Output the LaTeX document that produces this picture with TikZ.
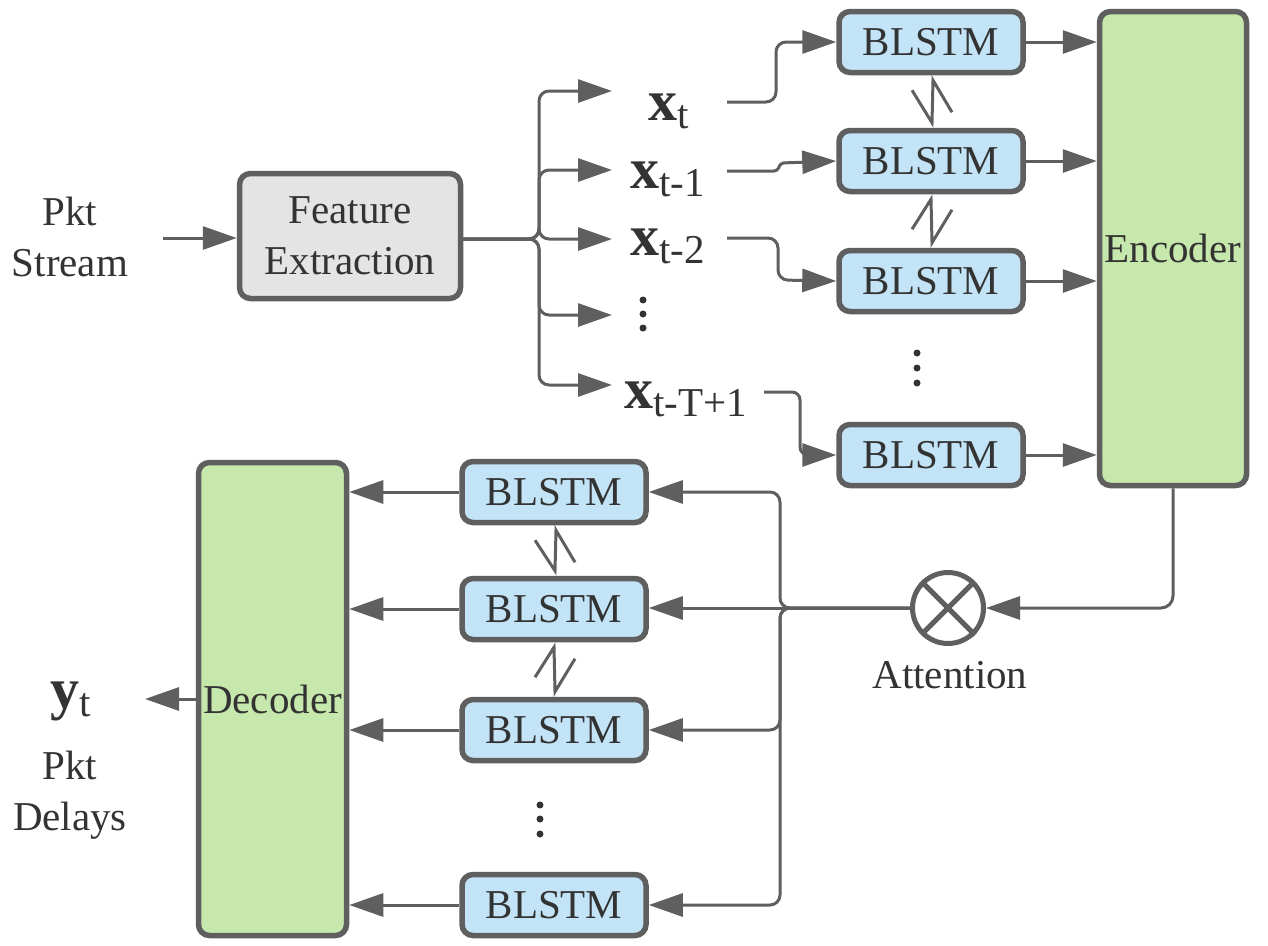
\documentclass[tikz,border=0pt]{standalone}
\usepackage{fontspec}
\setmainfont{Liberation Serif}
\usetikzlibrary{arrows.meta,calc}
\definecolor{linec}{HTML}{5F5F5F}
\definecolor{txt}{HTML}{333333}
\definecolor{bluef}{HTML}{C3E4F6}
\definecolor{greenf}{HTML}{C7E8AC}
\definecolor{grayf}{HTML}{E4E4E4}
\newcommand\xlab[2]{{\fontsize{58}{60}\selectfont\bfseries #1}\raisebox{-8pt}{#2}}
\begin{document}
\begin{tikzpicture}[x=1pt,y=-1pt,
  font=\fontsize{41}{51}\selectfont, text=txt,
  box/.style={draw=linec,line width=5.5pt,rounded corners=11pt,inner sep=0pt},
  blstm/.style={box,fill=bluef,minimum width=184pt,minimum height=61pt},
  bigbox/.style={box,fill=greenf,minimum width=147pt,minimum height=474pt},
  conn/.style={draw=linec,line width=3pt},
  arr/.style={conn,-{Triangle[length=34pt,width=23pt]}},
  zig/.style={draw=linec,line width=3pt},
  vdot/.style={fill=txt,circle,inner sep=0pt,minimum size=7pt},
  lbl/.style={inner sep=0pt,align=center}
]
\useasboundingbox (0,0) rectangle (1268,945);

% input
\node[lbl] (ps) at (70,237) {Pkt\\Stream};
\coordinate (psout) at (163,238);
\node[box,fill=grayf,minimum width=221pt,minimum height=125pt,align=center] (fe) at (350,236) {Feature\\Extraction};
\draw[arr] (psout) -- (psout -| fe.west);

% x labels
\node[anchor=base west,inner sep=0pt] (x0) at (648,120) {\xlab{x}{t}};
\node[anchor=base west,inner sep=0pt] (x1) at (630,188) {\xlab{x}{t-1}};
\node[anchor=base west,inner sep=0pt] (x2) at (630,255) {\xlab{x}{t-2}};
\node[anchor=base west,inner sep=0pt] (xT) at (624,408) {\xlab{x}{t-T+1}};
\foreach \yy in {300,314,328} \node[vdot] at (643,\yy) {};

\coordinate (i0) at (612,91);
\coordinate (i1) at (612,170);
\coordinate (i2) at (612,239);
\coordinate (id) at (612,315);
\coordinate (iT) at (612,385);
\coordinate (split1) at (539,239);
\coordinate (feout) at (463,239);
\foreach \c in {i0,i1,i2,id,iT}
  \draw[arr,rounded corners=10pt] (feout) -- (split1) |- (\c);

% BLSTM encoder column
\node[blstm] (b1) at (931,42) {BLSTM};
\node[blstm] (b2) at (931,161) {BLSTM};
\node[blstm] (b3) at (931,281) {BLSTM};
\node[blstm] (b4) at (931,455) {BLSTM};
\foreach \yy in {353,368,383} \node[vdot] at (917,\yy) {};

\coordinate (o0) at (727,102);
\coordinate (o1) at (727,171);
\coordinate (o2) at (727,238);
\coordinate (oT) at (764,392);
\draw[arr,rounded corners=10pt] (o0) -- (776,102) -- (776,42) -- (b1.west);
\draw[arr,rounded corners=3pt] (o1) -- (777,171) -- (781,163) -- (b2.west);
\draw[arr,rounded corners=10pt] (o2) -- (778,238) -- (778,280) -- (b3.west);
\draw[arr,rounded corners=8pt] (oT) -- (800,392) -- (800,455) -- (b4.west);

\draw[zig] ([shift={(-19,15)}]b1.south) -- ([shift={(1,-5)}]b2.north) -- ([shift={(2,5)}]b1.south) -- ([shift={(21,37)}]b1.south);
\draw[zig] ([shift={(-19,35)}]b2.south) -- ([shift={(0,5)}]b2.south) -- ([shift={(1,-5)}]b3.north) -- ([shift={(21,-38)}]b3.north);

% encoder
\node[bigbox] (enc) at (1173,248.5) {Encoder};
\foreach \b in {b1,b2,b3,b4}
  \draw[arr] (\b.east) -- (\b.east -| enc.west);

% attention
\node[draw=linec,line width=5pt,circle,minimum size=71pt,inner sep=0pt] (att) at (948,608) {};
\draw[linec,line width=5pt] (att.north west) -- (att.south east) (att.north east) -- (att.south west);
\node[lbl] (attl) at (950,675) {Attention};
\draw[arr,rounded corners=12pt] (enc.south) -- (enc.south |- att) -- (att.east);

% decoder column
\node[blstm] (l1) at (554,492) {BLSTM};
\node[blstm] (l2) at (554,609) {BLSTM};
\node[blstm] (l3) at (554,730) {BLSTM};
\node[blstm] (l5) at (554,905) {BLSTM};
\foreach \yy in {805,819,834} \node[vdot] at (540,\yy) {};

\draw[zig] ([shift={(-19,15)}]l1.south) -- ([shift={(1,-5)}]l2.north) -- ([shift={(2,5)}]l1.south) -- ([shift={(21,37)}]l1.south);
\draw[zig] ([shift={(-19,35)}]l2.south) -- ([shift={(0,5)}]l2.south) -- ([shift={(1,-5)}]l3.north) -- ([shift={(21,-38)}]l3.north);

\coordinate (split2) at (780,608);
\draw[arr] (att.west) -- (att.west -| l2.east);
\draw[arr,rounded corners=10pt] (att.west) -- (split2) |- (l1.east);
\draw[arr,rounded corners=10pt] (att.west) -- (split2) |- (l3.east);
\draw[arr,rounded corners=10pt] (att.west) -- (split2) |- (l5.east);

\node[bigbox,minimum width=148pt,minimum height=473pt] (dec) at (272.5,699) {Decoder};
\foreach \l in {l1,l2,l3,l5}
  \draw[arr] (\l.west) -- (\l.west -| dec.east);

% output
\node[anchor=base west,inner sep=0pt] (yt) at (50,708) {\xlab{y}{t}};
\coordinate (yin) at (145,699);
\draw[arr] (dec.west) -- (yin);
\node[lbl] (pd) at (70,795) {Pkt\\Delays};
\end{tikzpicture}
\end{document}
